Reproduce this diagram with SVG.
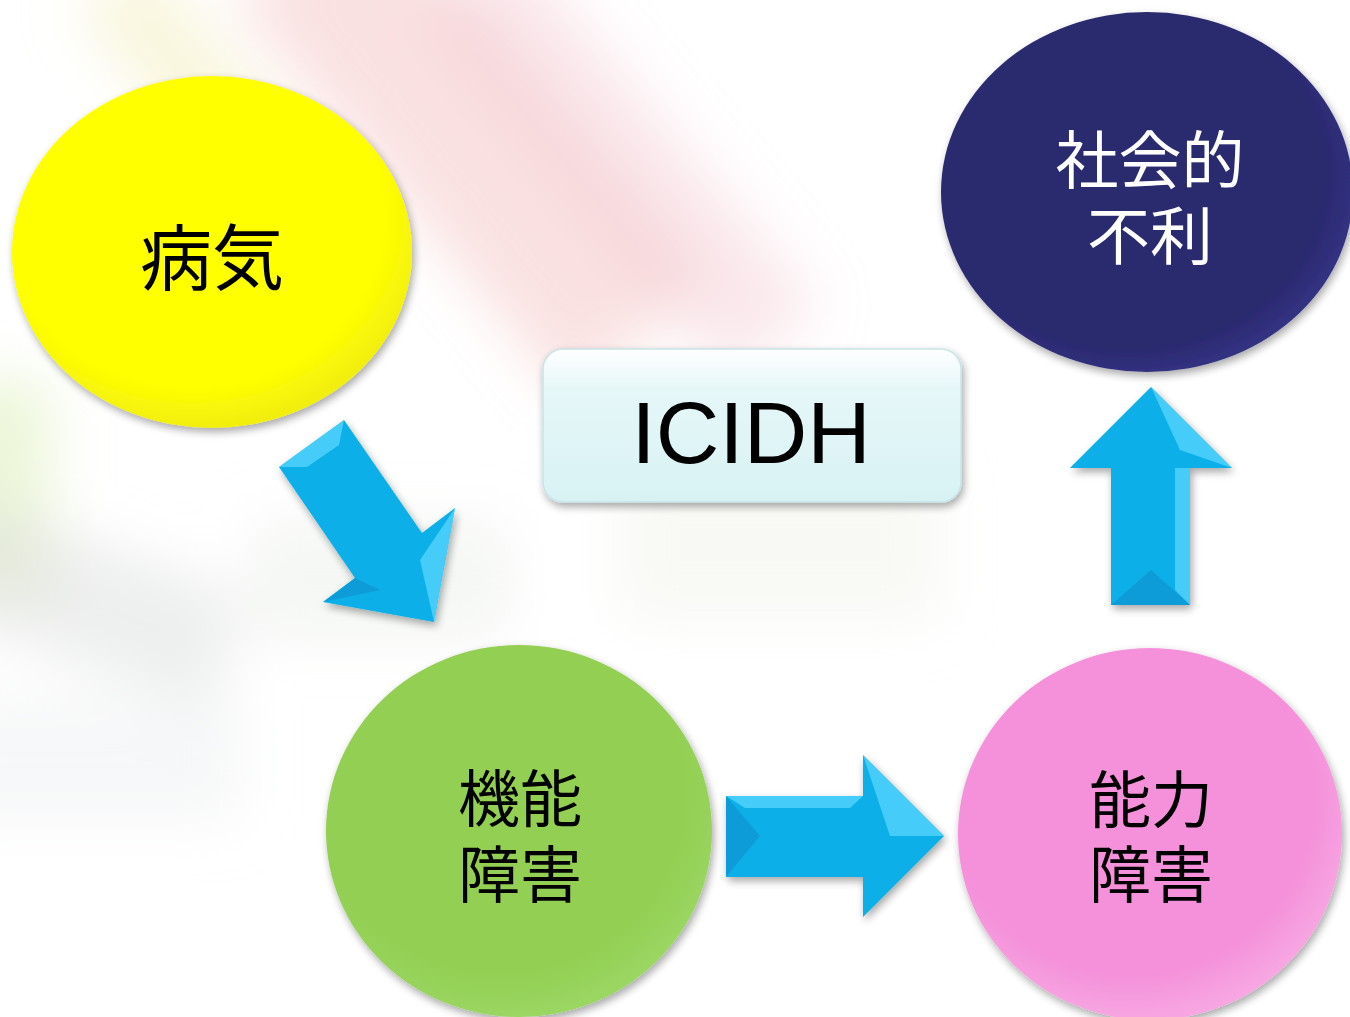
<svg xmlns="http://www.w3.org/2000/svg" width="1350" height="1017" viewBox="0 0 1350 1017">
<defs>
<filter id="blur" x="-50%" y="-50%" width="200%" height="200%"><feGaussianBlur stdDeviation="28"/></filter>
<filter id="shadow" x="-20%" y="-20%" width="140%" height="140%"><feGaussianBlur in="SourceAlpha" stdDeviation="4"/><feOffset dx="2" dy="4"/><feComponentTransfer><feFuncA type="linear" slope="0.35"/></feComponentTransfer><feMerge><feMergeNode/><feMergeNode in="SourceGraphic"/></feMerge></filter>
<radialGradient id="gYel" cx="0.45" cy="0.4" r="0.6"><stop offset="0.8" stop-color="#ffff00"/><stop offset="1" stop-color="#f2ee10"/></radialGradient>
<radialGradient id="gNav" cx="0.45" cy="0.45" r="0.6"><stop offset="0.8" stop-color="#2b2a6e"/><stop offset="1" stop-color="#34348a"/></radialGradient>
<radialGradient id="gGrn" cx="0.45" cy="0.4" r="0.6"><stop offset="0.8" stop-color="#92cf52"/><stop offset="1" stop-color="#9ad662"/></radialGradient>
<radialGradient id="gPnk" cx="0.45" cy="0.4" r="0.6"><stop offset="0.8" stop-color="#f491da"/><stop offset="1" stop-color="#f7a6e2"/></radialGradient>
<linearGradient id="gBox" x1="0" y1="0" x2="0" y2="1"><stop offset="0" stop-color="#ffffff"/><stop offset="0.25" stop-color="#e6f7f8"/><stop offset="1" stop-color="#d8f2f4"/></linearGradient>
<style>
.jp{font-family:"Noto Sans CJK JP","Noto Sans CJK SC",sans-serif;text-anchor:middle}
.arrow{fill:#09afe8}
.hi{fill:#5fd8ff;opacity:0.7}
.lo{fill:#0a8cc8;opacity:0.55}
</style>
</defs>
<rect width="1350" height="1017" fill="#ffffff"/>
<g filter="url(#blur)">
<rect x="380" y="-120" width="180" height="520" fill="#f6c4c4" opacity="0.5" transform="rotate(-40 470 140)"/>
<rect x="560" y="-80" width="120" height="480" fill="#f3c6cf" opacity="0.4" transform="rotate(-40 620 160)"/>
<rect x="180" y="-60" width="90" height="360" fill="#f5f0c8" opacity="0.6" transform="rotate(-40 225 120)"/>
<rect x="-60" y="380" width="110" height="220" fill="#e4f2c8" opacity="0.7"/>
<rect x="-80" y="540" width="320" height="120" fill="#dcdede" opacity="0.5" transform="rotate(20 80 590)"/>
<rect x="-60" y="700" width="300" height="120" fill="#e8eaee" opacity="0.4"/>
<rect x="250" y="520" width="260" height="120" fill="#ecefea" opacity="0.5"/>
<rect x="620" y="470" width="320" height="150" fill="#f2f2ec" opacity="0.5"/>
</g>
<g id="connectors">
<g id="arrow-diag" filter="url(#shadow)">
<polygon class="arrow" points="279,467 344,420 422,533 455,508 434,622 323,602 355,578"/>
<polygon class="hi" points="279,467 344,420 339,445 307,467"/>
<polygon class="hi" points="455,508 434,622 420,560"/>
<polygon class="lo" points="323,602 355,578 380,590"/>
</g>
<g id="arrow-right" filter="url(#shadow)">
<polygon class="arrow" points="726,796 863,796 863,755 944,836 863,917 863,877 726,877"/>
<polygon class="hi" points="726,796 863,796 850,808 745,808"/>
<polygon class="lo" points="726,796 760,836 726,877"/>
<polygon class="hi" points="863,755 944,836 890,836"/>
</g>
<g id="arrow-up" filter="url(#shadow)">
<polygon class="arrow" points="1151,387 1232,468 1190,468 1190,605 1111,605 1111,468 1070,468"/>
<polygon class="hi" points="1151,387 1232,468 1180,450"/>
<polygon class="hi" points="1175,468 1190,468 1190,605 1175,590"/>
<polygon class="lo" points="1111,605 1151,570 1190,605"/>
</g>
</g>
<g id="node-byoki" filter="url(#shadow)">
<ellipse cx="212" cy="252" rx="200" ry="176" fill="url(#gYel)"/>
<text class="jp" x="212" y="284" font-size="72" fill="#000">病気</text>
</g>
<g id="node-shakaiteki" filter="url(#shadow)">
<ellipse cx="1147" cy="192" rx="206" ry="180" fill="url(#gNav)"/>
<text class="jp" font-size="63" fill="#fff"><tspan x="1150" y="183">社会的</tspan><tspan x="1150" y="259">不利</tspan></text>
</g>
<g id="node-icidh" filter="url(#shadow)">
<rect x="543" y="349" width="418" height="153" rx="20" fill="url(#gBox)" stroke="#c8e4e8" stroke-width="1.5"/>
<text x="751" y="463" font-family="'Liberation Sans',Arial,sans-serif" font-size="88" text-anchor="middle" fill="#000">ICIDH</text>
</g>
<g id="node-kinou" filter="url(#shadow)">
<ellipse cx="519" cy="831" rx="193" ry="186" fill="url(#gGrn)"/>
<text class="jp" font-size="62" fill="#000"><tspan x="520" y="822">機能</tspan><tspan x="520" y="898">障害</tspan></text>
</g>
<g id="node-nouryoku" filter="url(#shadow)">
<ellipse cx="1150" cy="834" rx="192" ry="186" fill="url(#gPnk)"/>
<text class="jp" font-size="62" fill="#000"><tspan x="1151" y="823">能力</tspan><tspan x="1151" y="898">障害</tspan></text>
</g>
</svg>
